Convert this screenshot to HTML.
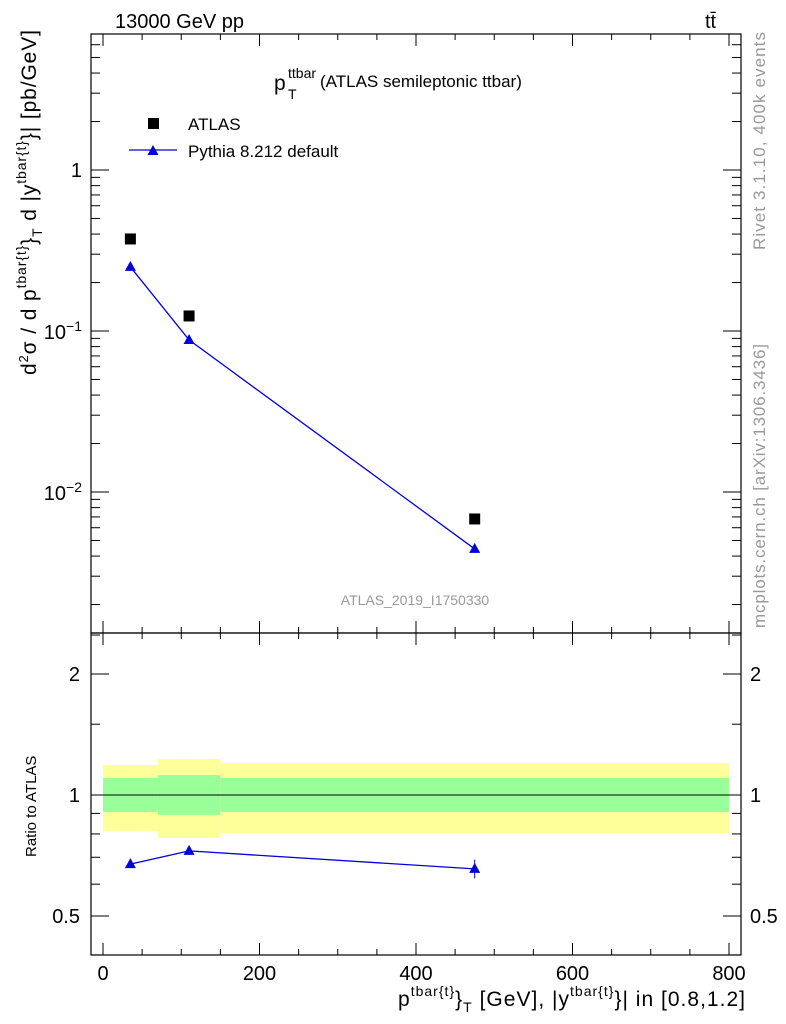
<!DOCTYPE html>
<html><head><meta charset="utf-8"><style>
body{margin:0;background:#fff;}
svg{display:block;font-family:"Liberation Sans",sans-serif;}
</style></head><body>
<svg id="c" width="786" height="1024" viewBox="0 0 786 1024">
<g id="g"></g>
<text x="115" y="28" font-size="20">13000 GeV pp</text>
<text x="705" y="28" font-size="20">tt̄</text>
<g>
<text x="274" y="90" font-size="21">p</text>
<text x="288" y="78" font-size="14">ttbar</text>
<text x="288" y="99" font-size="14">T</text>
<text x="320" y="87" font-size="17">(ATLAS semileptonic ttbar)</text>
</g>
<text x="188" y="130" font-size="17">ATLAS</text>
<text x="188" y="157" font-size="17">Pythia 8.212 default</text>
<text x="415" y="605" font-size="14" fill="#999" text-anchor="middle">ATLAS_2019_I1750330</text>
<text transform="translate(36,375) rotate(-90)" font-size="21" textLength="345" lengthAdjust="spacing">d<tspan dy="-8" font-size="13">2</tspan><tspan dy="8">σ / d p</tspan><tspan dy="-10" font-size="14">tbar{t}</tspan><tspan dy="10">}</tspan><tspan dy="6" font-size="14">T</tspan><tspan dy="-6"> d |y</tspan><tspan dy="-10" font-size="14">tbar{t}</tspan><tspan dy="10">}| [pb/GeV]</tspan></text>
<text transform="translate(36,857) rotate(-90)" font-size="15">Ratio to ATLAS</text>
<text x="398" y="1006" font-size="21" textLength="347" lengthAdjust="spacing">p<tspan dy="-10" font-size="14">tbar{t}</tspan><tspan dy="10">}</tspan><tspan dy="6" font-size="14">T</tspan><tspan dy="-6"> [GeV], |y</tspan><tspan dy="-10" font-size="14">tbar{t}</tspan><tspan dy="10">}| in [0.8,1.2]</tspan></text>
<text transform="translate(765,250) rotate(-90)" font-size="17" fill="#999" textLength="218" lengthAdjust="spacing">Rivet 3.1.10,  400k events</text>
<text transform="translate(765,628) rotate(-90)" font-size="17" fill="#999" textLength="284" lengthAdjust="spacing">mcplots.cern.ch [arXiv:1306.3436]</text>
</svg>
<script>
const xCats = [35, 110, 475];
const atlasVals = [0.373, 0.124, 0.0068];
const pythiaVals = [0.25, 0.088, 0.00443];
const ratioVals = [0.673, 0.726, 0.655];
const bandEdges = [0, 70, 150, 800];
const yellowLo = [0.814, 0.782, 0.804];
const yellowHi = [1.187, 1.229, 1.201];
const greenLo = [0.907, 0.892, 0.907];
const greenHi = [1.102, 1.121, 1.102];
const xTicks = [0, 200, 400, 600, 800];
const ratioTicks = [0.5, 1, 2];

const NS = "http://www.w3.org/2000/svg";
const g = document.getElementById('g');
function el(tag, attrs, parent){const e=document.createElementNS(NS,tag);for(const k in attrs)e.setAttribute(k,attrs[k]);(parent||g).appendChild(e);return e;}
const L=91, R=741, T=34, M=633, B=955;
const X = v => 103 + v*(729-103)/800;
const Y = v => 170 - 161*Math.log10(v);
const YR = v => 795 - 402*Math.log10(v);

for(let i=0;i<3;i++){
  let r=el('rect',{x:X(bandEdges[i]),y:YR(yellowHi[i]),width:X(bandEdges[i+1])-X(bandEdges[i]),height:YR(yellowLo[i])-YR(yellowHi[i]),fill:'#ffff99'});
  
  
  let q=el('rect',{x:X(bandEdges[i]),y:YR(greenHi[i]),width:X(bandEdges[i+1])-X(bandEdges[i]),height:YR(greenLo[i])-YR(greenHi[i]),fill:'#99ff99'});
  
  
}
el('line',{x1:X(0),x2:X(800),y1:YR(1),y2:YR(1),stroke:'#000'});

el('rect',{x:L,y:T,width:R-L,height:M-T,fill:'none',stroke:'#000','stroke-width':1.2});
el('rect',{x:L,y:M,width:R-L,height:B-M,fill:'none',stroke:'#000','stroke-width':1.2});

for(let v=0; v<=800; v+=50){
  const maj = v%200===0, len = maj?12:6;
  for(const [y0,dir] of [[T,1],[M,-1],[M,1],[B,-1]]) el('line',{x1:X(v),x2:X(v),y1:y0,y2:y0+dir*len,stroke:'#000'});
}
xTicks.forEach(v=>{const t=el('text',{x:X(v),y:980,'font-size':20,'text-anchor':'middle'});t.textContent=v;
});

for(let d=-3; d<=0; d++){
  for(let m=1;m<=9;m++){
    const v=m*Math.pow(10,d); const y=Y(v); if(y<T||y>M) continue;
    const len = m===1?18:9;
    el('line',{x1:L,x2:L+len,y1:y,y2:y,stroke:'#000'});
    el('line',{x1:R,x2:R-len,y1:y,y2:y,stroke:'#000'});
  }
}
const tl=(x,y,html,name)=>{const t=el('text',{x:x,y:y,'font-size':20,'text-anchor':'end'});t.innerHTML=html;return t;};
tl(82,177,'1','y-tick-1');
tl(82,339,'10<tspan dy="-8" font-size="14">−1</tspan>','y-tick-0.1');
tl(82,500,'10<tspan dy="-8" font-size="14">−2</tspan>','y-tick-0.01');

[0.4,0.5,0.6,0.7,0.8,0.9,1,1.5,2,2.5].forEach(v=>{const y=YR(v); if(y<M||y>B) return;
  const len = ratioTicks.includes(v)?18:9;
  el('line',{x1:L,x2:L+len,y1:y,y2:y,stroke:'#000'});el('line',{x1:R,x2:R-len,y1:y,y2:y,stroke:'#000'});});
ratioTicks.forEach(v=>{const y=YR(v)+7;
  tl(80,y,String(v),'ratio-tick-left');
  const t=el('text',{x:750,y:y,'font-size':20});t.textContent=v;});

el('polyline',{points:xCats.map((x,i)=>X(x)+','+Y(pythiaVals[i])).join(' '),fill:'none',stroke:'#0000dd','stroke-width':1.3});
el('polyline',{points:xCats.map((x,i)=>X(x)+','+YR(ratioVals[i])).join(' '),fill:'none',stroke:'#0000dd','stroke-width':1.3});
const tri=(cx,cy)=>el('polygon',{points:`${cx},${cy-6} ${cx-5.5},${cy+4} ${cx+5.5},${cy+4}`,fill:'#0000dd'});
xCats.forEach((x,i)=>{
  const s=el('rect',{x:X(x)-5.5,y:Y(atlasVals[i])-5.5,width:11,height:11,fill:'#000'});
  
  
  const p=tri(X(x),Y(pythiaVals[i]));
  
  
  const r=tri(X(x),YR(ratioVals[i]));
  
  
});
el('line',{x1:X(475),x2:X(475),y1:YR(0.69),y2:YR(0.62),stroke:'#0000dd'});

el('rect',{x:148,y:118,width:11,height:11,fill:'#000'});
el('line',{x1:129,x2:177,y1:150,y2:150,stroke:'#0000dd','stroke-width':1.3});
tri(153,151);
</script>
</body></html>
